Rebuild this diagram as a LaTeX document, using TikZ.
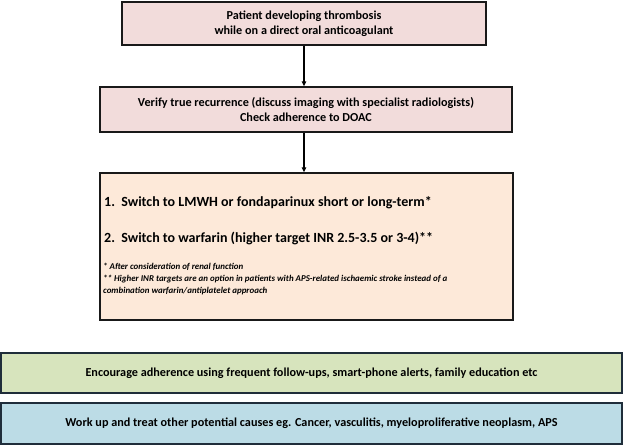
\documentclass[tikz,border=0pt]{standalone}
\usepackage{fontspec}
\setmainfont{Carlito}
\usetikzlibrary{arrows.meta}
\definecolor{pinkbox}{HTML}{F2DCDB}
\definecolor{peachbox}{HTML}{FDE9D9}
\definecolor{greenbox}{HTML}{D7E4BD}
\definecolor{bluebox}{HTML}{BCDCE6}
\definecolor{navyedge}{HTML}{1F2D3A}
\tikzset{
  x=1pt, y=-1pt,
  flowbox/.style={draw=black!90, line width=1.3pt, inner sep=0pt, align=center,
    font=\fontsize{12.2}{14.5}\selectfont\bfseries},
  widebox/.style={draw=navyedge, line width=1.3pt, inner sep=0pt, align=center,
    minimum width=621pt, font=\fontsize{12.2}{14.5}\selectfont\bfseries},
  itemtext/.style={anchor=west, inner sep=0pt, font=\fontsize{14}{16}\selectfont\bfseries},
  notetext/.style={anchor=north west, inner sep=0pt, align=left,
    font=\fontsize{8.9}{12}\selectfont\bfseries\itshape},
  flowarrow/.style={line width=1.2pt, -{Triangle[length=5pt,width=4.5pt]}}
}
\begin{document}
\begin{tikzpicture}
\useasboundingbox (0,0) rectangle (624,446);
\node[flowbox, fill=pinkbox, minimum width=364pt, minimum height=43pt] (b1) at (304,23.5)
  {Patient developing thrombosis\\while on a direct oral anticoagulant};
\node[flowbox, fill=pinkbox, minimum width=412pt, minimum height=45pt] (b2) at (306,109.5)
  {Verify true recurrence (discuss imaging with specialist radiologists)\\Check adherence to DOAC};
\node[flowbox, fill=peachbox, minimum width=413pt, minimum height=147pt] (b3) at (306.5,246.5) {};
\node[itemtext] (i1) at (104,203) {1.\ \ Switch to LMWH or fondaparinux short or long-term*};
\node[itemtext] (i2) at (104,238) {2.\ \ Switch to warfarin (higher target INR 2.5-3.5 or 3-4)**};
\node[notetext] (n1) at (103,263) {* After consideration of renal function\\
** Higher INR targets are an option in patients with APS-related ischaemic stroke instead of a\\
combination warfarin/antiplatelet approach};
\node[widebox, fill=greenbox, minimum height=40pt] (g) at (311.5,373)
  {Encourage adherence using frequent follow-ups, smart-phone alerts, family education etc};
\node[widebox, fill=bluebox, minimum height=41pt] (w) at (311.5,423.5)
  {Work up and treat other potential causes eg. Cancer, vasculitis, myeloproliferative neoplasm, APS};
\draw[flowarrow] (b1.south) -- (b1.south |- b2.north);
\draw[flowarrow] (b2.south -| b1.south) -- (b1.south |- b3.north);
\end{tikzpicture}
\end{document}
